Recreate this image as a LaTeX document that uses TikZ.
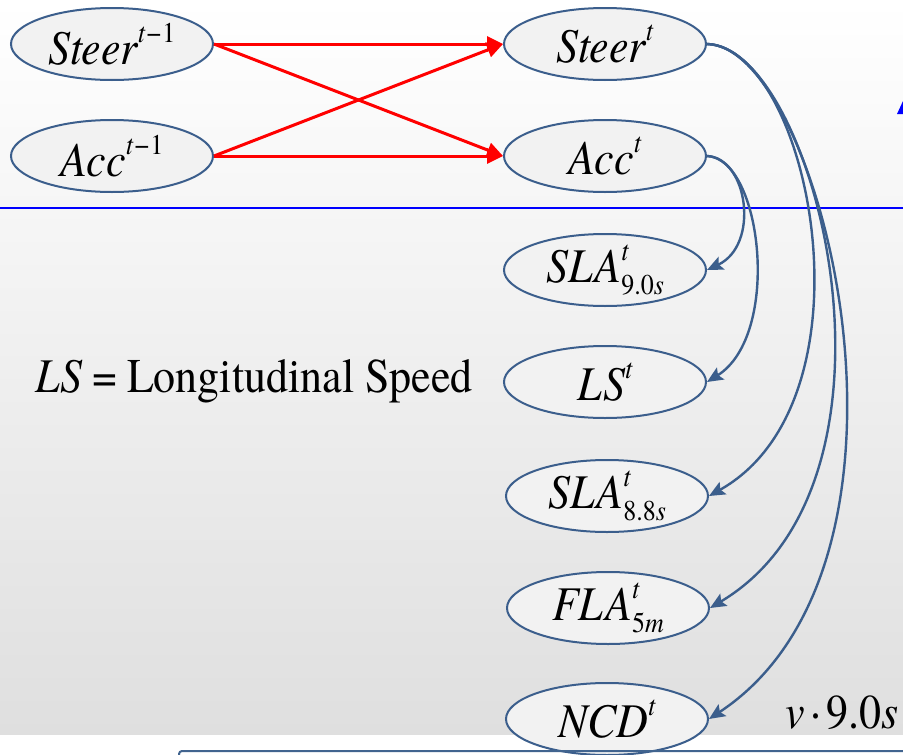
\documentclass[tikz,border=0pt]{standalone}
\usepackage{fontspec}
\usepackage{graphicx}
\setmainfont{texgyretermes}[Extension=.otf,
  UprightFont=*-regular, ItalicFont=*-italic,
  BoldFont=*-bold, BoldItalicFont=*-bolditalic]
\usetikzlibrary{arrows.meta,shapes.geometric}

\definecolor{edgeblue}{RGB}{59,94,140}
\definecolor{nodefill}{RGB}{242,242,242}
\definecolor{bgbottom}{RGB}{223,223,223}
\definecolor{framecol}{RGB}{65,100,143}

% text sizes and helpers for indices
\newcommand\bigtxt{\fontsize{44}{50}\selectfont}
\newcommand\idxtxt{\fontsize{26}{28}\selectfont}
\newcommand\tall[1]{\scalebox{1}[1.1]{#1}}
\newcommand\upidx[1]{\raisebox{0.46em}{\idxtxt\itshape #1}}
\newcommand\updown[2]{\makebox[0pt][l]{\upidx{#1}}\raisebox{-0.24em}{\idxtxt\itshape #2}}
\newcommand\tminus{t\kern0.06em\normalfont−\kern0.04em1}

\tikzset{
  var/.style={ellipse, draw=edgeblue, line width=2pt, fill=nodefill,
    minimum width=202pt, minimum height=72pt, inner sep=0pt,
    font=\bigtxt},
  redarrow/.style={draw=red, line width=3pt,
    -{Triangle[length=16pt,width=15pt]}},
  bluearrow/.style={draw=edgeblue, line width=2.4pt,
    -{Stealth[length=16pt,width=14pt,inset=3pt]}},
}

\begin{document}
\begin{tikzpicture}[x=1pt,y=-1pt]
\useasboundingbox (0,0) rectangle (903,755);

% background
\shade[top color=white, bottom color=bgbottom] (0,0) rectangle (903,735);
\fill[white] (0,735) rectangle (903,755);
\draw[blue, line width=2pt] (0,208) -- (903,208);
\fill[blue] (897,114) -- (903,114) -- (903,101) -- cycle;

% variables
\node[var] (stp)  at (112,44)  {\tall{\itshape Steer\upidx{\tminus}}};
\node[var] (acp)  at (112,156) {\tall{\itshape Acc\upidx{\tminus}}};
\node[var] (st)   at (605,44)  {\tall{\itshape Steer\upidx{t}}};
\node[var] (ac)   at (605,156) {\tall{\itshape Acc\upidx{t}}};
\node[var] (sla9) at (605,270) {\tall{\itshape SLA\updown{t}{\normalfont 9.0\itshape s}}};
\node[var] (ls)   at (605,382) {\tall{\itshape LS\upidx{t}}};
\node[var] (sla8) at (607,496) {\tall{\itshape SLA\updown{t}{\normalfont 8.8\itshape s}}};
\node[var] (fla)  at (608,608) {\tall{\itshape FLA\updown{t}{\normalfont 5\itshape m}}};
\node[var] (ncd)  at (607,719) {\tall{\itshape NCD\upidx{t}}};

% notes
\node[anchor=west, inner sep=0pt] (lsnote) at (35,381)
  {\bigtxt\tall{\textit{LS}\kern0.22em=\kern0.22em Longitudinal Speed}};
\node[anchor=east, inner sep=0pt] (vnote) at (899,713)
  {\bigtxt\tall{\textit{v}\kern0.12em·\kern0.12em9.0\textit{s}}};

% temporal links
\draw[redarrow] (stp.east) -- (st.west);
\draw[redarrow] (stp.east) -- (ac.west);
\draw[redarrow] (acp.east) -- (st.west);
\draw[redarrow] (acp.east) -- (ac.west);

% links from acceleration
\draw[bluearrow] (ac.east) .. controls (748,158) and (760,245) .. (sla9.east);
\draw[bluearrow] (ac.east) .. controls (762,158) and (782,335) .. (ls.east);

% links from steering
\draw[bluearrow] (st.east) .. controls (810,48) and (880,400) .. (sla8.east);
\draw[bluearrow] (st.east) .. controls (815,46) and (925,480) .. (fla.east);
\draw[bluearrow] (st.east) .. controls (820,45) and (950,560) .. (ncd.east);

% frame at the bottom
\draw[framecol, line width=2pt, rounded corners=3pt] (179,760) -- (179,751) -- (910,751);
\end{tikzpicture}
\end{document}
